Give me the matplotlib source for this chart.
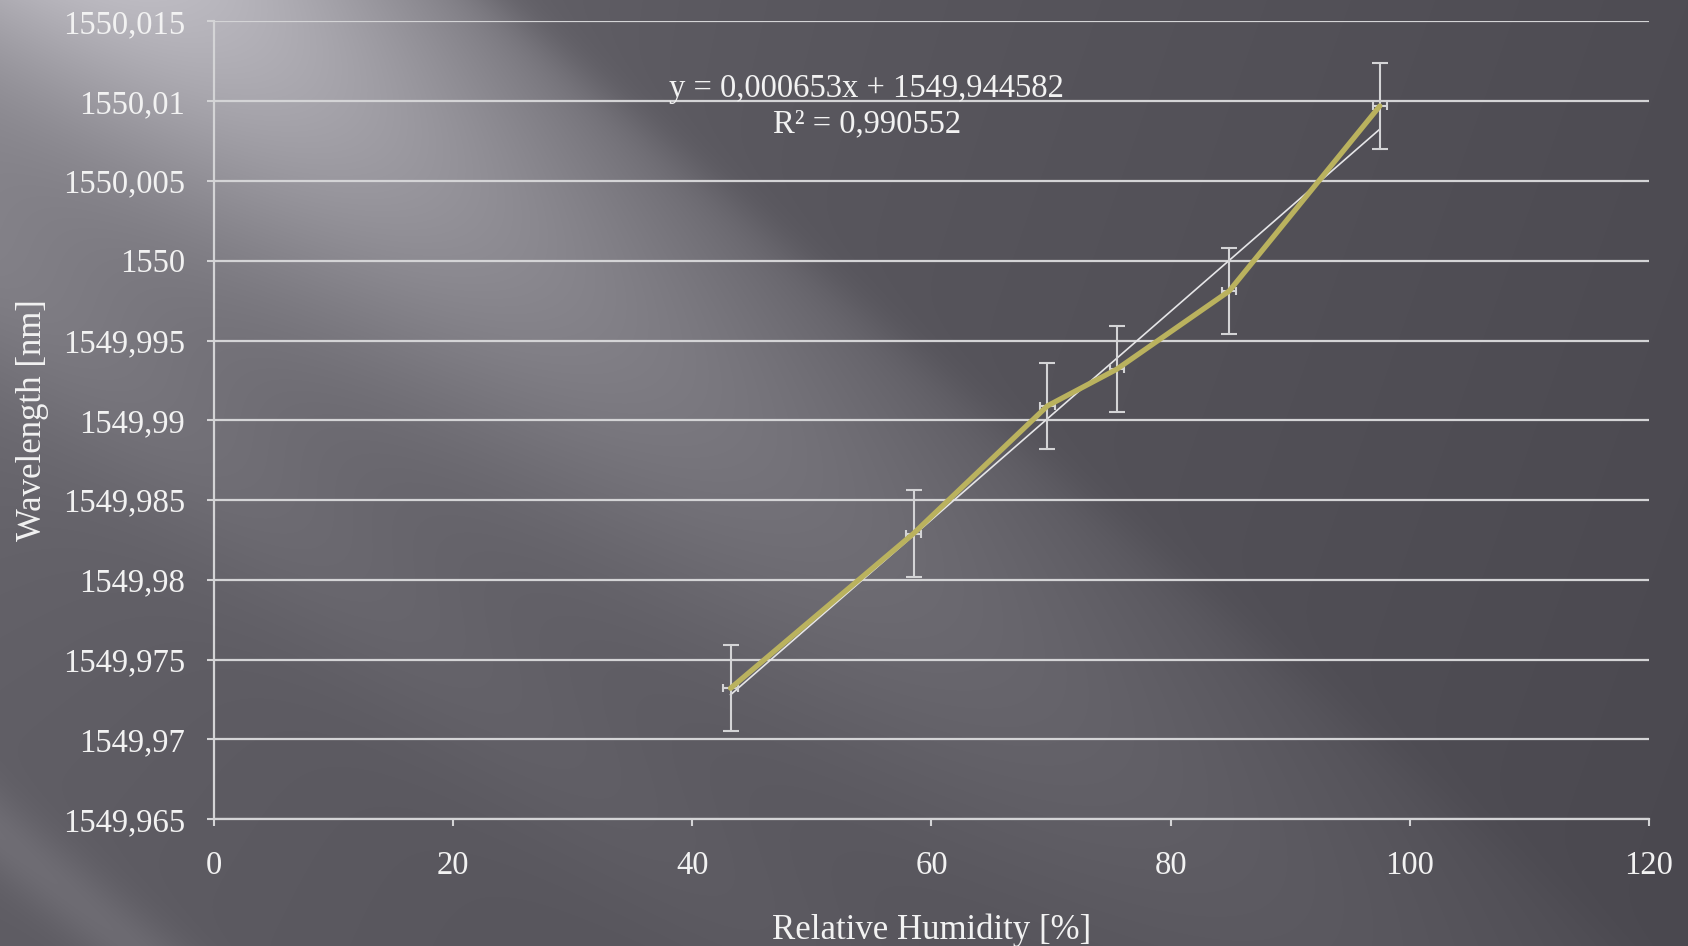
import numpy as np
import matplotlib.pyplot as plt

# measured points (relative humidity %, wavelength nm)
humidity = [43.2, 58.5, 69.7, 75.5, 84.9, 97.5]
wavelength = [1549.9732, 1549.9829, 1549.9909, 1549.9932, 1549.9981, 1550.0097]
wl_err = [0.0027, 0.0027, 0.0027, 0.0027, 0.0027, 0.0027]
rh_err = [0.6, 0.6, 0.6, 0.6, 0.6, 0.6]

# linear trend from the chart
slope = 0.000653
intercept = 1549.944582
eq_text = "y = 0,000653x + 1549,944582\nR² = 0,990552"

y_ticks = [1549.965, 1549.97, 1549.975, 1549.98, 1549.985, 1549.99,
           1549.995, 1550.0, 1550.005, 1550.01, 1550.015]
y_tick_labels = ["1549,965", "1549,97", "1549,975", "1549,98", "1549,985", "1549,99",
                 "1549,995", "1550", "1550,005", "1550,01", "1550,015"]
x_ticks = [0, 20, 40, 60, 80, 100, 120]

plt.rcParams["font.family"] = ["Liberation Serif", "DejaVu Serif"]
TXT = "#f2f2f2"
LINE = "#d4d4d6"

fig = plt.figure(figsize=(16.88, 9.46), dpi=100)

# ---------------------------------------------------------------------
# background: dark gradient with diagonal light streaks
# ---------------------------------------------------------------------
H, W = 946, 1688
yy, xx = np.mgrid[0:H, 0:W].astype(float)
th = np.deg2rad(40)
u = -np.sin(th) * xx + np.cos(th) * yy
v = np.cos(th) * xx + np.sin(th) * yy
base = 78 + 20 * (1 - xx / W) - 4 * (yy / H)
edge = 1 / (1 + np.exp(-(u + 320) / 12))
beam = 90 * np.exp(-((u + 140) / 200) ** 2) * np.exp(-v / 800) * edge
glow = 20 * np.exp(-(xx ** 2 + yy ** 2) / 450 ** 2)
beam2 = 18 * np.exp(-((u - 220) / 90) ** 2) * np.exp(-v / 1100)
beam3 = 16 * np.exp(-((u - 640) / 35) ** 2)
val = base + beam + glow + beam2 + beam3
img = np.clip(np.dstack([val, val - 2, val + 5]) / 255.0, 0, 1)

bg = fig.add_axes([0, 0, 1, 1], zorder=-1)
bg.imshow(img, aspect="auto", interpolation="bilinear")
bg.axis("off")

# ---------------------------------------------------------------------
# main axes
# ---------------------------------------------------------------------
ax = fig.add_axes([0.1268, 0.1342, 0.85, 0.8431], zorder=1)
ax.set_facecolor("none")

ax.plot([humidity[0], humidity[-1]],
        [slope * humidity[0] + intercept, slope * humidity[-1] + intercept],
        color="#e6e6e8", lw=1.2, zorder=3)
ax.errorbar(humidity, wavelength, yerr=wl_err, fmt="none", ecolor=LINE,
            elinewidth=1.5, capsize=5.5, capthick=1.5, zorder=4)
ax.errorbar(humidity, wavelength, xerr=rh_err, fmt="none", ecolor=LINE,
            elinewidth=1.5, capsize=3, capthick=1.5, zorder=4)
ax.plot(humidity, wavelength, color="#bab25e", lw=3.8, zorder=5,
        solid_capstyle="round", solid_joinstyle="round")

ax.text(54.6, 1550.0097, eq_text, ha="center", va="center", color=TXT,
        fontsize=23.5, linespacing=1.2)

ax.set_xlim(0, 120)
ax.set_ylim(1549.965, 1550.015)
ax.set_xticks(x_ticks)
ax.set_yticks(y_ticks)
ax.set_yticklabels(y_tick_labels)
ax.grid(axis="y", color=LINE, lw=1.6)
ax.set_axisbelow(True)

for s in ("top", "right"):
    ax.spines[s].set_visible(False)
for s in ("left", "bottom"):
    ax.spines[s].set_color(LINE)
    ax.spines[s].set_linewidth(1.6)

ax.tick_params(axis="both", colors=LINE, labelcolor=TXT, labelsize=23.5,
               length=5, width=1.5, direction="out")
ax.tick_params(axis="y", pad=16)
ax.tick_params(axis="x", pad=18)

ax.set_xlabel("Relative Humidity [%]", color=TXT, fontsize=25)
ax.set_ylabel("Wavelength [nm]", color=TXT, fontsize=25)
ax.yaxis.set_label_coords(-0.115, 0.5)
ax.xaxis.set_label_coords(0.5, -0.118)

fig.savefig("out.png", dpi=100)
